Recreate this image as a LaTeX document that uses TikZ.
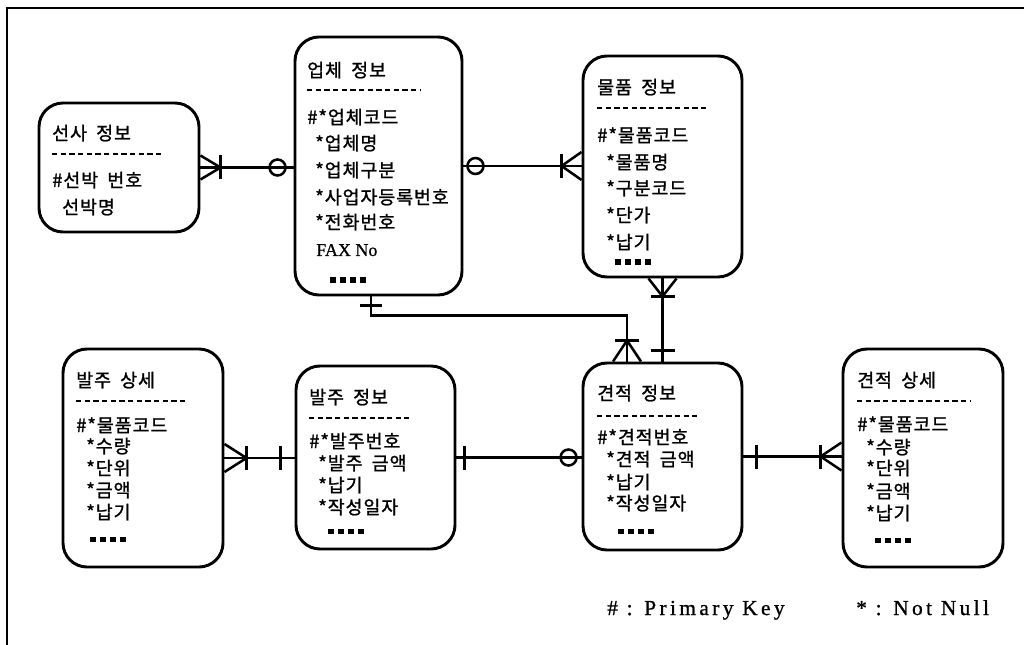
\documentclass[tikz,border=0pt]{standalone}
\usepackage{fontspec}
\setmainfont{Liberation Serif}
\newfontfamily\kr[FakeBold=1.2,LetterSpace=5]{Noto Sans CJK KR}
\newfontfamily\legfont[LetterSpace=16,FakeBold=1]{Liberation Serif}
\newfontfamily\faxfont[FakeBold=0.8]{Liberation Serif}
\usetikzlibrary{calc,fit}
\newcommand\sqdots[2]{\foreach \i in {0,1,2,3}{\fill ({#1+\i*10},{#2-2.5}) rectangle ++(5.5,5.5);}}
\begin{document}
\begin{tikzpicture}[x=0.75pt,y=-0.75pt,
  ent/.style={draw,line width=2.2pt,rounded corners=18pt,inner sep=0pt},
  conn/.style={line width=1.9pt},
  txt/.style={font=\kr\fontsize{13.8}{16}\selectfont,anchor=base west,inner sep=0pt},
  fax/.style={font=\faxfont\fontsize{13.5}{15}\selectfont,anchor=base west,inner sep=0pt},
  leg/.style={font=\legfont\fontsize{16}{18}\selectfont,anchor=base west,inner sep=0pt},
  sepline/.style={line width=1pt,dash pattern=on 4pt off 2.5pt}]
\useasboundingbox (0,0) rectangle (1024,645);
% frame
\draw[line width=1.5pt] (1024,8) -- (7,8) -- (7,645);
% entities
\node[ent,fit={(39,103) (199,232)}] (sa) {};
\node[ent,fit={(295,37) (462,295)}] (up) {};
\node[ent,fit={(583,56) (742,277)}] (mp) {};
\node[ent,fit={(63,349) (223,567)}] (bs) {};
\node[ent,fit={(296,366) (455,549)}] (bj) {};
\node[ent,fit={(583,363) (742,550)}] (gj) {};
\node[ent,fit={(843,349) (1003,567)}] (gs) {};
% 선사 정보
\node[txt] (sa-t) at (52,140) {선사\enspace 정보};
\draw[sepline] (52,154) -- (163,154);
\node[txt] (sa-1) at (52,187) {\#선박\enspace 번호};
\node[txt] (sa-2) at (62,214) {선박명};
% 업체 정보
\node[txt] (up-t) at (307,77) {업체\enspace 정보};
\draw[sepline] (307,90) -- (420,90);
\node[txt] (up-1) at (307,124) {\#*업체코드};
\node[txt] (up-2) at (315,150) {*업체명};
\node[txt] (up-3) at (315,177) {*업체구분};
\node[txt] (up-4) at (315,204) {*사업자등록번호};
\node[txt] (up-5) at (315,229) {*전화번호};
\node[fax] (up-6) at (316,256) {FAX No};
\sqdots{330}{280}
% 물품 정보
\node[txt] (mp-t) at (597,94) {물품\enspace 정보};
\draw[sepline] (597,108) -- (708,108);
\node[txt] (mp-1) at (597,142) {\#*물품코드};
\node[txt] (mp-2) at (606,169) {*물품명};
\node[txt] (mp-3) at (606,195) {*구분코드};
\node[txt] (mp-4) at (606,222) {*단가};
\node[txt] (mp-5) at (606,249) {*납기};
\sqdots{615}{262}
% 발주 상세
\node[txt] (bs-t) at (76,387) {발주\enspace 상세};
\draw[sepline] (76,401) -- (188,401);
\node[txt] (bs-1) at (76,432) {\#*물품코드};
\node[txt] (bs-2) at (86,453) {*수량};
\node[txt] (bs-3) at (86,475) {*단위};
\node[txt] (bs-4) at (86,497) {*금액};
\node[txt] (bs-5) at (86,519) {*납기};
\sqdots{90}{539}
% 발주 정보
\node[txt] (bj-t) at (309,404) {발주\enspace 정보};
\draw[sepline] (309,418) -- (409,418);
\node[txt] (bj-1) at (309,448) {\#*발주번호};
\node[txt] (bj-2) at (318,470) {*발주\enspace 금액};
\node[txt] (bj-3) at (318,492) {*납기};
\node[txt] (bj-4) at (318,514) {*작성일자};
\sqdots{328}{531}
% 견적 정보
\node[txt] (gj-t) at (597,400) {견적\enspace 정보};
\draw[sepline] (597,416) -- (697,416);
\node[txt] (gj-1) at (597,444) {\#*견적번호};
\node[txt] (gj-2) at (606,466) {*견적\enspace 금액};
\node[txt] (gj-3) at (606,489) {*납기};
\node[txt] (gj-4) at (606,510) {*작성일자};
\sqdots{618}{531}
% 견적 상세
\node[txt] (gs-t) at (857,387) {견적\enspace 상세};
\draw[sepline] (857,401) -- (970,401);
\node[txt] (gs-1) at (857,431) {\#*물품코드};
\node[txt] (gs-2) at (866,454) {*수량};
\node[txt] (gs-3) at (866,475) {*단위};
\node[txt] (gs-4) at (866,498) {*금액};
\node[txt] (gs-5) at (866,520) {*납기};
\sqdots{875}{540}
% legend
\node[leg] (lg1) at (607,615) {\# : Primary Key};
\node[leg] (lg2) at (856,615) {* : Not Null};
% connector 1: 선사 - 업체
\draw[conn] (sa.east) -- (sa.east -| up.west);
\draw[conn] ($(sa.east)+(0,-12)$) -- ($(sa.east)+(20,0)$) -- ($(sa.east)+(0,12)$);
\draw[conn] ($(sa.east)+(20,-12)$) -- ($(sa.east)+(20,12)$);
\draw[conn] ($(sa.east -| up.west)+(-16,0)$) circle[radius=6pt];
% connector 2: 업체 - 물품
\coordinate (p2) at (up.east -| mp.west);
\draw[conn] (up.east) -- (p2);
\draw[conn] ($(up.east)+(12,0)$) circle[radius=6pt];
\draw[conn] ($(p2)+(0,-14)$) -- ($(p2)+(-20,0)$) -- ($(p2)+(0,14)$);
\draw[conn] ($(p2)+(-20,-12)$) -- ($(p2)+(-20,12)$);
% connector 3: 물품 - 견적
\draw[conn] (mp.south) -- (gj.north);
\draw[conn] ($(mp.south)+(-14,0)$) -- ($(mp.south)+(0,18)$) -- ($(mp.south)+(14,0)$);
\draw[conn] ($(mp.south)+(-12,18)$) -- ($(mp.south)+(12,18)$);
\draw[conn] ($(gj.north)+(-12,-11)$) -- ($(gj.north)+(12,-11)$);
% connector 4: 업체 - 견적
\coordinate (u4) at ($(up.south)+(-7.5,0)$);
\coordinate (g4) at ($(gj.north)+(-35.5,0)$);
\draw[conn] (u4) |- ($(g4)+(0,-46)$) -- (g4);
\draw[conn] ($(u4)+(-11,9)$) -- ($(u4)+(11,9)$);
\draw[conn] ($(g4)+(-14,0)$) -- ($(g4)+(0,-21)$) -- ($(g4)+(14,0)$);
\draw[conn] ($(g4)+(-12,-21)$) -- ($(g4)+(12,-21)$);
% connector 5: 발주 상세 - 발주 정보
\coordinate (p5) at (bs.east -| bj.west);
\draw[conn] (bs.east) -- (p5);
\draw[conn] ($(bs.east)+(0,-14)$) -- ($(bs.east)+(22,0)$) -- ($(bs.east)+(0,14)$);
\draw[conn] ($(bs.east)+(22,-12)$) -- ($(bs.east)+(22,12)$);
\draw[conn] ($(p5)+(-14,-12)$) -- ($(p5)+(-14,12)$);
% connector 6: 발주 정보 - 견적 정보
\coordinate (p6) at (bj.east -| gj.west);
\draw[conn] (bj.east) -- (p6);
\draw[conn] ($(bj.east)+(8,-12)$) -- ($(bj.east)+(8,12)$);
\draw[conn] ($(p6)+(-13,0)$) circle[radius=6pt];
% connector 7: 견적 정보 - 견적 상세
\coordinate (p7) at (gj.east -| gs.west);
\draw[conn] (gj.east) -- (p7);
\draw[conn] ($(gj.east)+(13,-12)$) -- ($(gj.east)+(13,12)$);
\draw[conn] ($(p7)+(0,-14)$) -- ($(p7)+(-21,0)$) -- ($(p7)+(0,14)$);
\draw[conn] ($(p7)+(-21,-12)$) -- ($(p7)+(-21,12)$);
\end{tikzpicture}
\end{document}
